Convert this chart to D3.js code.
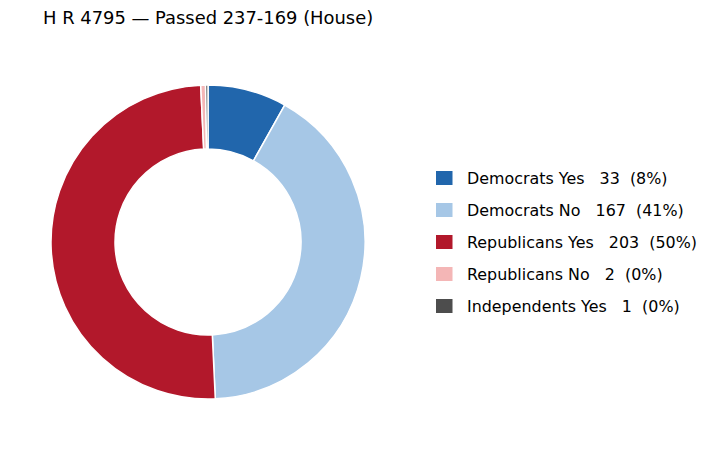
<!DOCTYPE html>
<html>
<head>
<meta charset="utf-8">
<script src="https://cdn.jsdelivr.net/npm/d3@7"></script>
<style>
  body { margin: 0; background: #fff; }
  text { font-family: "DejaVu Sans", sans-serif; fill: #000; }
</style>
</head>
<body>
<svg id="chart" width="712" height="450"></svg>
<script>
/* Vote breakdown */
const labels = ['Democrats Yes', 'Democrats No', 'Republicans Yes', 'Republicans No', 'Independents Yes'];
const votes = [33, 167, 203, 2, 1];
const colors = ['#2166ac', '#a6c7e6', '#b2182b', '#f4b6b6', '#4d4d4d'];
const title = 'H R 4795 \u2014 Passed 237-169 (House)';

const svg = d3.select('#chart');
const total = d3.sum(votes);

/* Title */
svg.append('text')
    .attr('x', 43)
    .attr('y', 24)
    .attr('font-size', '17.9px')
    .text(title);

/* Donut */
const cx = 208, cy = 242, outerR = 157, innerR = 93;

const pie = d3.pie()
    .sort(null)
    .value(d => d);

const arc = d3.arc()
    .innerRadius(innerR)
    .outerRadius(outerR);

const donutD3 = svg.append('g')
    .attr('class', 'donut')
    .attr('transform', `translate(${cx},${cy})`);

donutD3.selectAll('path')
    .data(pie(votes))
    .join('path')
    .attr('d', arc)
    .attr('fill', (d, i) => colors[i])
    .attr('stroke', '#fff')
    .attr('stroke-width', 1.5);

/* Legend */
const legendY = d3.scalePoint()
    .domain(labels)
    .range([178, 306]);

const legendD3 = svg.append('g')
    .attr('class', 'legend');

const rows = legendD3.selectAll('g')
    .data(labels)
    .join('g')
    .attr('transform', d => `translate(436,${legendY(d)})`);

rows.append('rect')
    .attr('x', 0)
    .attr('y', -7)
    .attr('width', 16.5)
    .attr('height', 14)
    .attr('fill', (d, i) => colors[i]);

rows.append('text')
    .attr('x', 31)
    .attr('y', 0)
    .attr('dy', '0.36em')
    .attr('font-size', '15.9px')
    .style('white-space', 'pre')
    .text((d, i) => `${d}   ${votes[i]}  (${Math.round(votes[i] / total * 100)}%)`);
</script>
</body>
</html>
